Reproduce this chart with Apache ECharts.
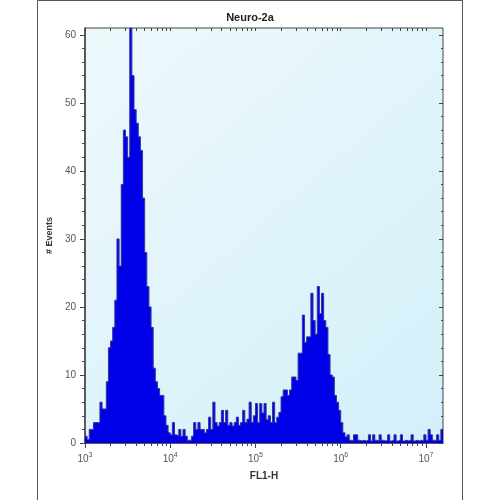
<!DOCTYPE html>
<html>
<head>
<meta charset="utf-8">
<script src="https://cdn.jsdelivr.net/npm/echarts@6/dist/echarts.min.js"></script>
<style>
  html, body { margin: 0; padding: 0; background: #fff; }
  #chart { width: 500px; height: 500px; }
</style>
</head>
<body>
<div id="chart"></div>
<script>
// histogram channels, log10(FL1-H) from 3.0 to 7.2, 0.025 decade per bin
var logStart = 3.0;
var binWidth = 0.025;
var counts = [
  1, 0.5, 2, 2, 3, 3, 3, 6, 5, 5,
  9, 14, 15, 17, 21, 30, 26, 38, 46, 45,
  42, 61, 54, 49, 47, 45, 43, 36, 28, 23,
  20, 17, 11, 9, 8, 7, 7, 4, 2.6, 1.5,
  1.2, 3, 1.2, 1, 2, 1, 2, 1, 0.4, 0.4,
  1, 3, 2, 3, 2, 2, 1.5, 2, 3.8, 2,
  6, 3, 2.5, 3, 4.8, 3, 4.8, 2.6, 3, 2.5,
  3, 3.8, 2.6, 3, 4.8, 3, 3.5, 6, 3, 4,
  5.8, 3, 5.8, 4.4, 5.8, 3.4, 4, 3, 6, 3,
  3.8, 4.5, 6.8, 7.8, 7.8, 7, 7.8, 9.7, 9.7, 9.2,
  13.2, 13.2, 18.8, 14.8, 15.6, 15.6, 22, 18, 16, 23,
  19, 22, 18, 17, 13, 10, 9.7, 7, 6, 4.8,
  3, 1.5, 0.9, 1.2, 0.4, 0.3, 1.2, 1.2, 0.4, 0.3,
  0.4, 0.3, 0.4, 1.2, 0.3, 1.2, 0.4, 0.3, 1.2, 0.4,
  0.3, 0.4, 1.2, 0.3, 0.4, 1.2, 0.3, 0.4, 1.2, 0.3,
  0.4, 0.3, 0.4, 1.2, 0.3, 0.4, 0.3, 0.4, 0.3, 1.2,
  0.4, 2, 1.2, 0.4, 0.3, 1.2, 0.4, 2
];
var xMajorTicks = [3, 4, 5, 6, 7];
var yLabels = [0, 10, 20, 30, 40, 50, 60];
var xMin = 3, xMax = 7.2, yMin = 0, yMax = 61;

// log-spaced minor ticks (2..9 x 10^k)
var xMinorTicks = [];
for (var k = 3; k <= 7; k++) {
  for (var m = 2; m <= 9; m++) {
    var v = k + Math.log10(m);
    if (v < xMax) xMinorTicks.push(v);
  }
}

var histData = counts.map(function (c, i) { return [logStart + i * binWidth, c]; });
histData.push([logStart + counts.length * binWidth, counts[counts.length - 1]]);

var chart = echarts.init(document.getElementById('chart'));

var axisColor = '#444';
var labelColor = '#555';

chart.setOption({
  animation: false,
  title: {
    text: 'Neuro-2a',
    left: 'center',
    top: 7,
    textStyle: { fontFamily: 'Liberation Sans', fontSize: 11, fontWeight: 'bold', color: '#222' }
  },
  graphic: [{
    type: 'rect',
    shape: { x: 37.5, y: 0.5, width: 425, height: 530 },
    style: { fill: 'none', stroke: '#555', lineWidth: 1 },
    silent: true
  }],
  grid: {
    left: 85, right: 57, top: 28, bottom: 57,
    show: true,
    borderColor: axisColor,
    borderWidth: 1,
    backgroundColor: new echarts.graphic.LinearGradient(0, 0, 1, 1, [
      { offset: 0, color: '#eef8fb' },
      { offset: 1, color: '#d2f0fa' }
    ])
  },
  xAxis: [
    {
      type: 'value', min: xMin, max: xMax, position: 'bottom',
      name: 'FL1-H', nameLocation: 'middle', nameGap: 28,
      nameTextStyle: { fontFamily: 'Liberation Sans', fontSize: 10, fontWeight: 'bold', color: '#333' },
      axisLine: { show: true, lineStyle: { color: axisColor, width: 1.5 } },
      axisTick: { show: true, length: 5, customValues: xMajorTicks, lineStyle: { color: axisColor } },
      splitLine: { show: false },
      axisLabel: {
        customValues: xMajorTicks,
        margin: 9,
        formatter: function (v) { return '{b|10}{s|' + v + '}'; },
        rich: {
          b: { fontFamily: 'Liberation Sans', fontSize: 10, color: labelColor },
          s: { fontFamily: 'Liberation Sans', fontSize: 7, color: labelColor, padding: [0, 0, 7, 0] }
        }
      }
    },
    {
      type: 'value', min: xMin, max: xMax, position: 'bottom',
      axisLine: { show: false },
      axisTick: { show: true, length: 3, customValues: xMinorTicks, lineStyle: { color: axisColor } },
      axisLabel: { show: false },
      splitLine: { show: false }
    },
    {
      type: 'value', min: xMin, max: xMax, position: 'top',
      axisLine: { show: false },
      axisTick: { show: true, inside: true, length: 3, customValues: xMajorTicks.concat(xMinorTicks), lineStyle: { color: axisColor } },
      axisLabel: { show: false },
      splitLine: { show: false }
    }
  ],
  yAxis: [
    {
      type: 'value', min: yMin, max: yMax, position: 'left',
      name: '# Events', nameLocation: 'middle', nameGap: 31,
      nameTextStyle: { fontFamily: 'Liberation Sans', fontSize: 9, fontWeight: 'bold', color: '#333' },
      axisLine: { show: true, lineStyle: { color: axisColor, width: 1.5 } },
      axisTick: { show: true, length: 5, customValues: yLabels, lineStyle: { color: axisColor } },
      minorTick: { show: true, splitNumber: 5, length: 3, lineStyle: { color: axisColor } },
      splitLine: { show: false },
      axisLabel: {
        customValues: yLabels, margin: 9,
        fontFamily: 'Liberation Sans', fontSize: 10, color: labelColor
      }
    },
    {
      type: 'value', min: yMin, max: yMax, position: 'right',
      axisLine: { show: false },
      axisTick: { show: true, inside: true, length: 4, customValues: yLabels, lineStyle: { color: axisColor } },
      minorTick: { show: true, splitNumber: 5, length: 2, lineStyle: { color: axisColor } },
      axisLabel: { show: false },
      splitLine: { show: false }
    }
  ],
  series: [{
    type: 'line',
    xAxisIndex: 0,
    yAxisIndex: 0,
    step: 'end',
    symbol: 'none',
    data: histData,
    lineStyle: { color: '#3535a0', width: 1 },
    areaStyle: { color: '#0000e6', opacity: 1 }
  }]
});
</script>
</body>
</html>
